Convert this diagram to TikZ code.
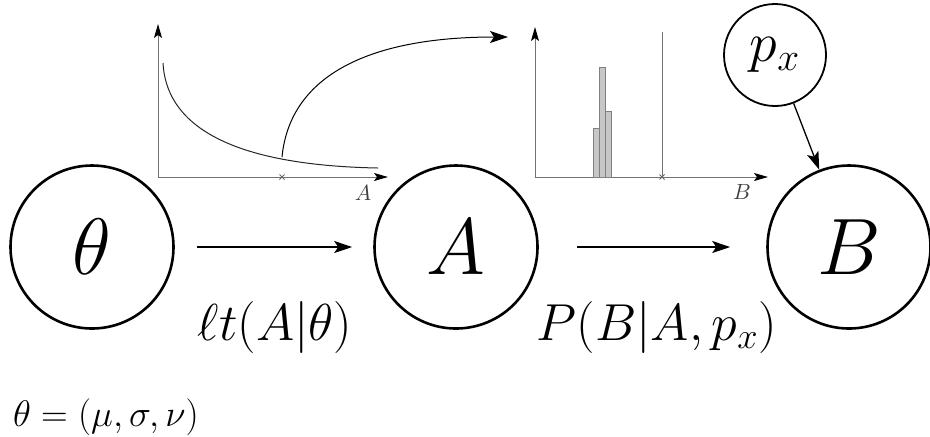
\RequirePackage{fix-cm}
\documentclass[tikz,border=0pt]{standalone}
\usetikzlibrary{arrows.meta}
\tikzset{var/.style={circle,draw,line width=1.3pt,minimum size=81.5pt,inner sep=0pt,font=\fontsize{40}{48}\selectfont},
  parnode/.style={circle,draw,line width=.9pt,minimum size=51pt,inner sep=0pt,font=\fontsize{28}{34}\selectfont},
  arrow/.style={-{Stealth[length=9pt,width=6pt,inset=2pt]},line width=.65pt},
  axis/.style={-{Stealth[length=7pt,width=4pt,inset=1.5pt,black]},line width=.5pt,draw=black!55},
  bar/.style={draw=black!50,fill=black!22,line width=.4pt},
  lbl/.style={font=\fontsize{26}{31}\selectfont,anchor=base},
  axlbl/.style={font=\fontsize{11}{13}\selectfont,text=black!75}}

\begin{document}
\begin{tikzpicture}[x=.5pt,y=-.5pt]
  \useasboundingbox (0,0) rectangle (930,436);
  % nodes of the chain
  \node[var] (theta) at (92,247) {$\theta$};
  \node[var] (A) at (456,247) {$A$};
  \node[var] (B) at (849,247) {$B$};
  \node[parnode] (px) at (775,55) {$p_x$};
  \draw[arrow,shorten <=11pt,shorten >=10.5pt] (theta) -- (A);
  \draw[arrow,shorten <=19pt,shorten >=18pt] (A) -- (B);
  \draw[arrow] (px) -- (B);
  \node[lbl] (lt) at (275,340.5) {$\ell t(A|\theta)$};
  \node[lbl] (pb) at (657,340.5) {$P(B|A,p_x)$};
  \node[anchor=base west,font=\fontsize{18.5}{22}\selectfont] (par) at (6,426) {$\theta=(\mu,\sigma,\nu)$};
  % likelihood plot
  \draw[axis] (158,177.5) -- (158,24);
  \draw[axis] (157.5,177) -- (388,177);
  \draw[line width=.5pt,black!85] (163,63) .. controls (166,120) and (220,165) .. (378,168);
  \draw[line width=.4pt,black!60] (279.5,174.5) -- (284.5,179.5) (279.5,179.5) -- (284.5,174.5);
  \node[axlbl] (labA) at (363,193) {$A$};
  \coordinate (mark) at (282,157);
  \coordinate (hist) at (508,37);
  \draw[arrow,line width=.5pt] (mark) .. controls (290,75) and (370,37) .. (hist);
  % histogram plot
  \draw[axis] (535,177.5) -- (535,27);
  \draw[axis] (534.5,177) -- (768,177);
  \draw[bar] (593.7,177) rectangle (599.3,128);
  \draw[bar] (599.3,177) rectangle (605.3,67);
  \draw[bar] (605.3,177) rectangle (611.3,111);
  \draw[line width=.5pt,black!55] (662,32) -- (662,177);
  \draw[line width=.4pt,black!60] (659.5,174.5) -- (664.5,179.5) (659.5,179.5) -- (664.5,174.5);
  \node[axlbl] (labB) at (742,192) {$B$};
\end{tikzpicture}
\end{document}
